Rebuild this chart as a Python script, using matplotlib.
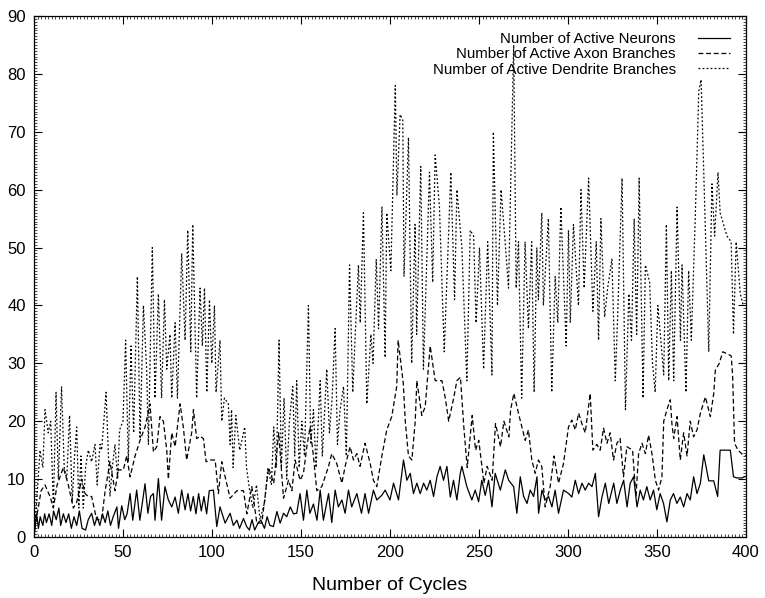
import matplotlib
matplotlib.use("Agg")
import matplotlib.pyplot as plt
from matplotlib.ticker import MultipleLocator

plt.rcParams['font.family'] = ['Liberation Sans', 'DejaVu Sans']
plt.rcParams['lines.scale_dashes'] = False

# Number of active neurons (solid)
neu_x = [0, 1.5, 2.5, 3.5, 5, 6, 7, 8.5, 10, 11, 12.5, 14, 15, 16.5, 18, 19.5, 21, 22.5, 24, 25.5,
         27, 29, 30.5, 32.4, 34, 35.5, 37, 38.5, 40, 41.5, 43, 44.5, 46.6, 47.5, 49.3, 51, 52.3, 54,
         55.5, 57.7, 59.5, 62.4, 64, 65.5, 67.1, 68, 69.9, 71.7, 73.6, 75.5, 77.4, 79.3, 81.1, 83,
         84.9, 86.5, 88, 89.5, 91, 92.5, 94, 95.5, 97, 98.5, 100.8, 102.7, 104.5, 107.4, 110.2, 112,
         114, 115.5, 117.7, 119.5, 121, 122.5, 124, 126, 127.5, 129.5, 131, 132.5, 134.5, 136.5,
         138.3, 140.2, 142, 144, 145.8, 147.6, 149.5, 151.4, 153.3, 155, 157, 159, 160.8, 162.6,
         165.5, 167.3, 169.2, 171, 173, 174.8, 176.7, 178.5, 181.4, 184, 186, 188, 190.7, 192.6,
         195.4, 197.3, 200, 202, 204.8, 207.6, 209.5, 211.4, 213.2, 215.1, 217, 218.9, 220.7,
         222.6, 224.5, 226.4, 228.2, 230.1, 232, 233.9, 235.7, 237.6, 239.5, 240.4, 243.2, 246,
         247.9, 249.8, 251.6, 253.5, 255.4, 257.3, 259.1, 262, 264.8, 266.7, 269.5, 271.3, 273.2,
         275.1, 277, 278.8, 280.7, 282.6, 283.5, 285.4, 287.2, 289.1, 291, 292.8, 294.7, 297.5,
         300.4, 302.2, 304.1, 306, 307.9, 309.7, 311.6, 313.5, 315.4, 317.2, 319.1, 321, 322.9,
         325.7, 327.5, 329.4, 331.3, 333.2, 335, 336.9, 338.8, 340.6, 342.4, 344.3, 346.2, 348.1,
         349.9, 351.8, 353.7, 355.6, 357.5, 359.3, 361.2, 363.1, 365, 366.9, 368.7, 370.6, 372.5,
         374.4, 376.3, 379.1, 381.9, 384.1, 385.5, 391.2, 393, 394.9, 397.7, 400]
neu_y = [0, 4, 1.5, 3.5, 2, 4, 2.5, 4, 2, 4.5, 3, 5, 2, 4, 2.5, 4, 1.5, 3.5, 2, 4.5,
         1.5, 1.2, 3, 4.1, 2, 3.5, 2, 4, 2.5, 4.5, 2, 3.5, 5.2, 1.5, 5.4, 3, 4, 7.5,
         2.9, 8.1, 2.9, 9.2, 4.1, 7, 7.5, 2.9, 10.1, 2.9, 8.7, 6.4, 5.2, 6.9, 4.1, 8.1,
         4.7, 7.5, 4.5, 7, 4, 7.5, 4.5, 7, 4, 8, 8.1, 1.8, 5.2, 2.4, 4.1, 2,
         2.9, 1.5, 3.2, 1.8, 1.2, 3, 1.2, 2.5, 2.9, 1.5, 3.5, 2, 1.8, 4.4,
         2.4, 4.1, 3.5, 5.2, 4, 4.1, 7.5, 2.9, 8.1, 4.1, 5.7, 2.9, 8.1, 2.9,
         7.5, 2.5, 8.1, 5.2, 6.4, 4.1, 8.1, 5.2, 7.5, 4.1, 7.5, 4.1, 8.1, 6.4,
         7.2, 8.1, 6.4, 9.3, 6.4, 13.3, 9.8, 11, 7.5, 9.3, 7.5, 9.3, 8.1,
         9.8, 7, 10.4, 12.2, 9.8, 12.2, 6.9, 9.8, 6.4, 11, 12.2, 8.7, 6.4,
         8.1, 6.1, 9.8, 7.2, 9.8, 5.2, 11, 8.1, 11.6, 9.8, 8.7, 4.1, 10.4,
         7, 5.8, 8.1, 7, 10.4, 4.1, 8.1, 6.4, 7, 5.2, 8.1, 4.1, 8.1,
         7.5, 6.9, 9.8, 7.5, 9.3, 8.1, 9.3, 8.7, 11, 3.5, 6.9, 9.3, 5.8,
         9.3, 5.8, 8.1, 9.8, 5.2, 9.3, 10.4, 5.2, 8.1, 6.4, 8.7, 6.4, 8.1,
         4.7, 7.5, 5.8, 2.6, 6.4, 7.5, 5.8, 6.9, 5.2, 7.5, 6.4, 10.4, 7.5,
         9.3, 14.2, 9.7, 9.7, 7, 15, 15, 10.4, 10.2, 10.2, 10.5]

# Number of active axon branches (dashed)
axo_x = [0, 0.6, 2.4, 4, 6.2, 9, 10.9, 13, 16.5, 19.3, 22.1, 24, 26.8, 28.7, 30.5, 32.4, 35.2, 38,
         40, 42.7, 45.5, 47.4, 50.2, 52.1, 54, 56.8, 59.6, 62.4, 65.2, 67.1, 69, 70.8, 72.7, 74.6,
         75.5, 77.4, 79.3, 82.1, 83.9, 85.8, 88.6, 89.6, 91.4, 93.3, 95.2, 96.7, 99, 101.8, 103.6,
         105.5, 107.4, 110.2, 114, 117.7, 119.6, 122.4, 125.2, 128, 131.8, 134.7, 137.5, 140.2,
         143, 144.9, 146.7, 149.5, 151.4, 153.3, 155.1, 157, 158.9, 161.7, 165.5, 167.3, 170.1,
         173, 174.8, 177.6, 179.5, 181.4, 183.2, 186, 188.9, 190.7, 192.6, 195.4, 198.2, 201,
         203.8, 204.6, 207.5, 208.6, 210.4, 212.3, 214.2, 215.1, 217.9, 219.8, 222.6, 225.4,
         229.2, 231.1, 233, 235.8, 237.6, 239.6, 241.5, 243.4, 246.2, 248.1, 249.9, 252.8, 254.6,
         257.4, 259.3, 262.1, 264, 266.8, 267.8, 269.6, 272.5, 276, 277.8, 279.7, 281.6, 283.4,
         285.3, 287.2, 290, 292.2, 294.7, 297.5, 300.3, 302.2, 304.1, 306, 307.8, 309.7, 312.5,
         314, 316.2, 318.1, 320, 321.9, 323.7, 325.6, 327.5, 329.3, 331.2, 333.1, 336.3, 338.2,
         339.7, 341.6, 343.5, 345.3, 347.2, 349.1, 350.9, 352.8, 353.8, 355.6, 357.5, 358.4,
         359.4, 361.3, 363.1, 365, 366.9, 368.7, 370.6, 372.5, 374.4, 377.2, 380, 381.9, 382.8,
         385, 387, 391.7, 392.5, 393.6, 395.5, 398.3, 400]
axo_y = [0, 2, 5, 8, 9, 7, 5, 9, 12, 9, 5, 6, 10, 7.5, 7, 7, 3, 3,
         8, 13, 8, 11.6, 11.6, 14, 10.4, 14, 16.7, 19, 23, 14.7, 15.6, 20.8, 20, 15,
         10, 18, 15.6, 23, 19, 13.3, 18, 22, 17, 17.4, 17, 13, 13.3, 13.3, 7.5,
         13, 10.4, 6.7, 8, 8, 4, 8.7, 2.4, 2.4, 12, 9.3, 18, 6.7,
         9.8, 8, 13.3, 9.8, 11, 15.6, 19, 14, 8, 8.7, 12.2, 14.4, 12.7,
         9.3, 12.2, 15.6, 13.3, 14.4, 12.2, 16.2, 12.7, 9.8, 8.7, 13.9, 18.5, 20.8,
         26, 34, 26.5, 20, 14, 13.3, 20, 27, 21, 22.5, 33, 27,
         27, 24, 20, 24, 27, 27.6, 19, 12, 21, 15, 16.7, 9.3, 12.2,
         9.8, 19.6, 15.6, 20, 17.3, 22, 24.8, 21, 16.7, 18.5, 13.3, 11, 13.3,
         12.2, 5.2, 8.7, 14, 9.3, 12.7, 19, 20.2, 18.5, 21.4, 19.6, 18, 24.8,
         15, 16, 15, 18.8, 16.2, 18, 13.3, 16.2, 17, 10.4, 15.6, 15, 7,
         14.4, 16.2, 14.4, 17.6, 14.4, 9.8, 8.1, 10.4, 20, 22, 23.7, 19.6,
         17, 20.8, 13.3, 18, 14, 20, 17.3, 18.5, 21.4, 24.2, 20.8, 24.8, 28.8,
         30, 32, 31.3, 28, 16.2, 15, 14.2, 14]

# Number of active dendrite branches (dotted)
den_x = [0, 1.5, 3.4, 5, 6.2, 8, 9.4, 10.9, 12.4, 13.7, 15.5, 17, 18.4, 20, 21.5, 22.8, 24, 25.2,
         26.4, 27.7, 29, 30.5, 32.4, 34.3, 35.5, 37.1, 38, 40.5, 42.7, 44, 45.5, 47, 48.1, 50,
         51.5, 53, 54.5, 56, 58.1, 59.6, 61.5, 63.3, 64.3, 66.5, 68, 69.9, 71.7, 73.3, 74.6, 76.4,
         77.4, 79.3, 80.6, 83, 84.9, 86.4, 88.1, 89.2, 91.4, 93.3, 94.6, 95.8, 97.1, 98.6, 99.9,
         101.4, 102.3, 104.5, 105.5, 107, 109.2, 110.2, 111, 111.9, 113.4, 115.6, 118.4, 119.4,
         121.2, 123, 125, 127, 129.6, 131.5, 133.4, 134.7, 136.2, 137.7, 139, 140.5, 142, 143.5,
         145.4, 146.5, 147.6, 149, 150.5, 152, 154.2, 155.5, 157, 158.5, 160.8, 162, 164.5, 166,
         167.5, 169.2, 170.5, 172, 173.9, 175.5, 177.3, 179.1, 180.5, 182.3, 183.3, 185.1, 187,
         189.3, 190.5, 192.3, 193.6, 195.5, 197.3, 198.2, 200.5, 203, 203.9, 205.7, 207.2, 207.9,
         210.4, 212.2, 214.1, 215, 217.3, 218.8, 222.2, 224, 225.4, 227.8, 230.5, 234.2, 236.3,
         237.6, 240.4, 243.2, 245.1, 247, 248.4, 250.3, 252.6, 254.9, 257.3, 258.1, 260.4, 262.4,
         264.7, 266.6, 269.5, 270.9, 272.2, 274, 275.9, 277.8, 279.6, 281, 282.5, 283.4, 285.3,
         286.2, 289, 290.9, 292.8, 294.3, 296, 299, 300.3, 301.3, 303.1, 305.9, 307.3, 309.1,
         311.6, 314, 315.9, 317.2, 318.5, 320.6, 322.3, 324.7, 326.6, 327.9, 330.4, 332.3, 334.2,
         335.7, 337.2, 338.6, 340, 342.2, 343.5, 345.9, 347.5, 349, 350.5, 352.2, 353.8, 355.3,
         356.6, 358.1, 359.4, 361.3, 363.2, 364.1, 366.3, 367.8, 369.3, 371.5, 373.5, 374.8,
         376.3, 379.1, 380.9, 382.4, 384.3, 385.5, 389.3, 391.7, 393, 394.5, 396.8, 398.5]
den_y = [0, 6, 15, 12, 22, 18, 20, 5, 25, 10, 26, 12, 10, 21, 6, 14, 19, 5,
         14, 5, 12, 15, 13, 16, 9, 16, 15, 25, 7, 12, 16, 10, 18.5, 20,
         34, 13, 33, 18, 45, 17, 40, 29, 16, 50, 24, 42, 24, 41, 29, 35,
         24, 37, 24, 49, 34, 53, 32, 54, 24, 43, 33, 43, 25, 41, 30,
         40, 25, 34, 20, 24, 23, 16, 22, 12, 21, 15, 19, 12,
         8, 5, 9, 3, 6, 12, 9, 19, 12, 34, 12, 24, 10, 20,
         26, 14, 27, 12, 20, 14, 40, 16, 22, 12, 27, 14, 29, 18,
         24, 36, 16, 22, 26, 14, 47, 25, 35, 47, 37, 56, 23,
         35, 30, 48, 36, 57, 31, 56, 46, 78, 59, 73, 72, 45,
         69, 30, 54, 35, 64, 29, 63, 44, 66, 57, 32, 63, 41,
         60, 50, 27, 53, 52, 37, 50, 29, 51, 28, 70, 40, 60,
         51, 43, 85, 43, 51, 24, 51, 36, 51, 25, 50, 41, 56,
         40, 55, 25, 45, 37, 57, 33, 53, 37, 54, 40, 60, 43,
         62, 39, 51, 34, 55, 38, 43, 48, 27, 38, 62, 22, 42,
         34, 55, 35, 62, 24, 47, 44, 30, 25, 40, 34, 28, 54,
         27, 46, 27, 57, 34, 47, 25, 46, 34, 55, 77, 79,
         63, 32, 61, 52, 63, 56, 52, 51, 35, 51, 42, 40]

fig = plt.figure(figsize=(7.65, 5.98), dpi=100)
ax = fig.add_axes([0.0444, 0.102, 0.9307, 0.8712])

ax.plot(neu_x, neu_y, color="black", lw=0.9, label="Number of Active Neurons")
ax.plot(axo_x, axo_y, color="black", lw=0.9, dashes=(3.5, 2),
        label="Number of Active Axon Branches")
ax.plot(den_x, den_y, color="black", lw=0.9, dashes=(1.3, 1.6),
        label="Number of Active Dendrite Branches")

ax.set_xlim(0, 400)
ax.set_ylim(0, 90)
ax.xaxis.set_major_locator(MultipleLocator(50))
ax.yaxis.set_major_locator(MultipleLocator(10))
ax.tick_params(which="major", direction="in", length=6, width=0.8,
               top=True, right=True, labelsize=12, pad=6)
ax.tick_params(which="minor", direction="in", length=2, width=0.5,
               top=True, right=True)
ax.xaxis.set_minor_locator(MultipleLocator(2))
ax.yaxis.set_minor_locator(MultipleLocator(0.5))
for sp in ax.spines.values():
    sp.set_linewidth(0.9)

ax.set_xlabel("Number of Cycles", fontsize=14, labelpad=12)

ax.legend(loc="upper right", bbox_to_anchor=(0.9775, 0.969), frameon=False,
          markerfirst=False, fontsize=10.8, handlelength=2.1, handletextpad=1.5,
          labelspacing=0.08, borderaxespad=0, borderpad=0)

fig.savefig("out.png", dpi=100)
